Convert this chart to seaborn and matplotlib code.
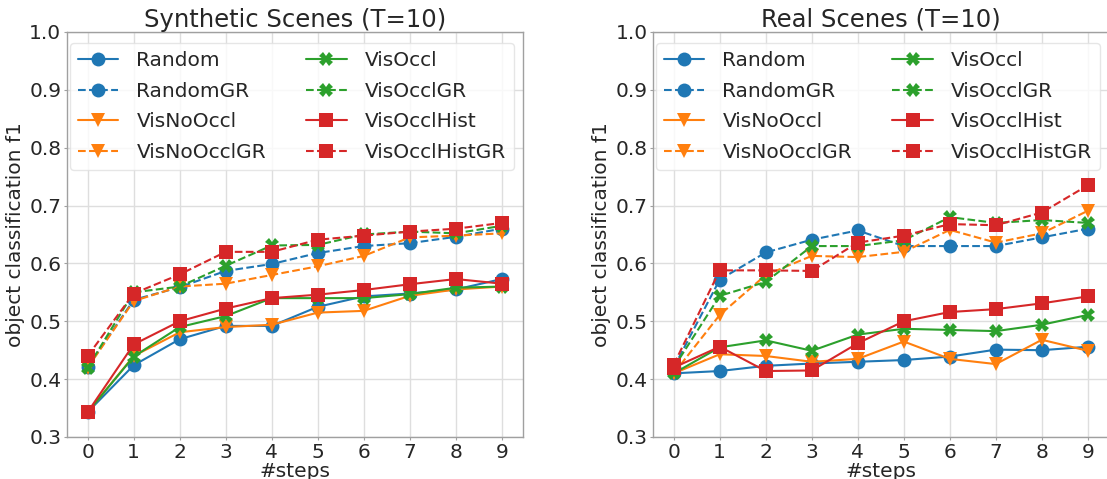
import numpy as np
import pandas as pd
import matplotlib
matplotlib.use("Agg")
import matplotlib.pyplot as plt
import seaborn as sns

steps = list(range(10))
methods = ["Random", "RandomGR", "VisNoOccl", "VisNoOcclGR",
           "VisOccl", "VisOcclGR", "VisOcclHist", "VisOcclHistGR"]

# Synthetic scenes
syn_random        = [0.343, 0.424, 0.469, 0.492, 0.492, 0.525, 0.543, 0.548, 0.555, 0.573]
syn_randomGR      = [0.421, 0.537, 0.559, 0.587, 0.599, 0.618, 0.630, 0.635, 0.646, 0.660]
syn_visnoocc      = [0.343, 0.440, 0.481, 0.490, 0.494, 0.515, 0.518, 0.544, 0.555, 0.560]
syn_visnooccGR    = [0.420, 0.535, 0.560, 0.565, 0.580, 0.595, 0.613, 0.645, 0.648, 0.652]
syn_visocc        = [0.343, 0.439, 0.490, 0.509, 0.540, 0.540, 0.540, 0.547, 0.558, 0.560]
syn_visoccGR      = [0.420, 0.550, 0.560, 0.596, 0.631, 0.632, 0.650, 0.655, 0.652, 0.665]
syn_visocchist    = [0.343, 0.460, 0.500, 0.522, 0.540, 0.546, 0.554, 0.564, 0.573, 0.565]
syn_visocchistGR  = [0.440, 0.548, 0.581, 0.620, 0.620, 0.641, 0.648, 0.655, 0.660, 0.670]

# Real scenes
real_random       = [0.410, 0.414, 0.423, 0.427, 0.430, 0.433, 0.439, 0.451, 0.450, 0.456]
real_randomGR     = [0.420, 0.572, 0.619, 0.641, 0.657, 0.630, 0.630, 0.630, 0.645, 0.660]
real_visnoocc     = [0.410, 0.443, 0.440, 0.430, 0.435, 0.465, 0.435, 0.426, 0.468, 0.449]
real_visnooccGR   = [0.410, 0.511, 0.580, 0.613, 0.611, 0.620, 0.658, 0.636, 0.652, 0.691]
real_visocc       = [0.410, 0.455, 0.467, 0.449, 0.477, 0.487, 0.485, 0.483, 0.494, 0.511]
real_visoccGR     = [0.420, 0.544, 0.568, 0.630, 0.630, 0.640, 0.680, 0.670, 0.675, 0.670]
real_visocchist   = [0.420, 0.456, 0.414, 0.415, 0.462, 0.500, 0.516, 0.521, 0.531, 0.543]
real_visocchistGR = [0.425, 0.588, 0.588, 0.587, 0.636, 0.648, 0.668, 0.666, 0.688, 0.735]

titles = ["Synthetic Scenes (T=10)", "Real Scenes (T=10)"]
yticks = [0.3, 0.4, 0.5, 0.6, 0.7, 0.8, 0.9, 1.0]

panels = [
    [syn_random, syn_randomGR, syn_visnoocc, syn_visnooccGR,
     syn_visocc, syn_visoccGR, syn_visocchist, syn_visocchistGR],
    [real_random, real_randomGR, real_visnoocc, real_visnooccGR,
     real_visocc, real_visoccGR, real_visocchist, real_visocchistGR],
]

sns.set_style("whitegrid", {"axes.edgecolor": "#a0a0a0", "grid.color": "#dedede",
                            "xtick.bottom": True, "ytick.left": True})
plt.rcParams["font.family"] = ["DejaVu Sans"]
FS = 14.5

colors = ["#1f77b4", "#1f77b4", "#ff7f0e", "#ff7f0e",
          "#2ca02c", "#2ca02c", "#d62728", "#d62728"]
marks = ["o", "o", "v", "v", "X", "X", "s", "s"]
styles = ["-", "--", "-", "--", "-", "--", "-", "--"]

fig = plt.figure(figsize=(11.07, 4.79), dpi=100)
ax_pos = [[0.0605, 0.0877, 0.4115, 0.8455], [0.5899, 0.0877, 0.4115, 0.8455]]

for p in range(2):
    ax = fig.add_axes(ax_pos[p])
    for i, m in enumerate(methods):
        df = pd.DataFrame({"step": steps, "f1": panels[p][i]})
        sns.lineplot(data=df, x="step", y="f1", ax=ax, color=colors[i],
                     marker=marks[i], linestyle=styles[i], markersize=10,
                     linewidth=1.5, markeredgewidth=0, label=m)
    ax.set_ylim(0.3, 1.0)
    ax.set_yticks(yticks)
    ax.set_xticks(steps)
    ax.set_xlim(-0.45, 9.45)
    ax.tick_params(labelsize=FS, length=2.5, color="#a0a0a0", pad=1.5)
    ax.set_title(titles[p], fontsize=17.5, pad=-1)
    ax.set_xlabel("#steps", fontsize=FS, labelpad=0)
    ax.set_ylabel("object classification f1", fontsize=FS, labelpad=3)
    ax.grid(True, color="#dedede", linewidth=1)
    for s in ax.spines.values():
        s.set_color("#a0a0a0")
        s.set_linewidth(1)
    ax.legend(loc="upper left", bbox_to_anchor=(0.0066, 0.973), borderaxespad=0,
              ncol=2, fontsize=FS, frameon=True, labelspacing=0.58,
              columnspacing=2.0, handletextpad=0.9, handlelength=2.0,
              edgecolor="#e0e0e0")

fig.savefig("out.png", dpi=100)
